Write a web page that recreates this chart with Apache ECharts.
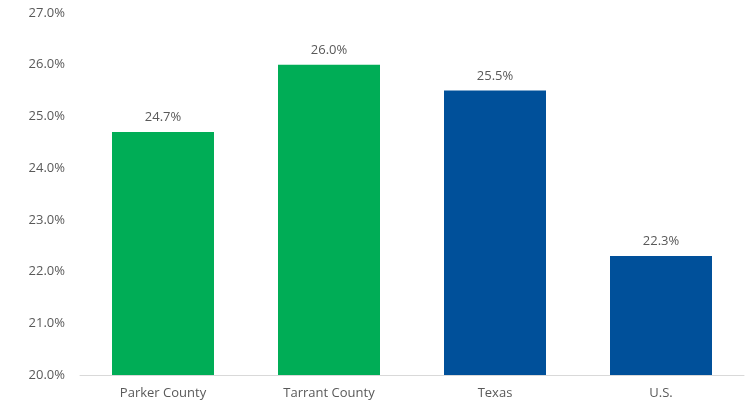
<!DOCTYPE html>
<html>
<head>
<meta charset="utf-8">
<script src="https://cdn.jsdelivr.net/npm/echarts@6/dist/echarts.min.js"></script>
<style>
  html, body { margin: 0; padding: 0; background: #fff; }
  #chart { width: 752px; height: 409px; }
</style>
</head>
<body>
<div id="chart"></div>
<script>
// Share of population by area (percent)
const categories = ['Parker County', 'Tarrant County', 'Texas', 'U.S.'];
const values = [24.7, 26.0, 25.5, 22.3];
const barColors = ['#00AD56', '#00AD56', '#00509A', '#00509A'];
const yTicks = { min: 20, max: 27, interval: 1 };

const chart = echarts.init(document.getElementById('chart'), null, { renderer: 'canvas' });
const textFont = "'Open Sans', 'Noto Sans', sans-serif";

chart.setOption({
  animation: false,
  grid: { left: 80, right: 8, top: 13, bottom: 34 },
  xAxis: {
    type: 'category',
    data: categories,
    axisLine: { lineStyle: { color: '#D9D9D9', width: 1 } },
    axisTick: { show: false },
    axisLabel: { color: '#595959', fontSize: 13, fontFamily: textFont, margin: 12 }
  },
  yAxis: {
    type: 'value',
    min: yTicks.min,
    max: yTicks.max,
    interval: yTicks.interval,
    axisLine: { show: false },
    axisTick: { show: false },
    splitLine: { show: false },
    axisLabel: {
      color: '#595959', fontSize: 13, fontFamily: textFont, margin: 15,
      formatter: v => v.toFixed(1) + '%'
    }
  },
  series: [{
    type: 'bar',
    barWidth: 102,
    data: values.map((v, i) => ({ value: v, itemStyle: { color: barColors[i] } })),
    label: {
      show: true,
      position: 'top',
      distance: 8,
      color: '#595959',
      fontSize: 13,
      fontFamily: textFont,
      formatter: p => p.value.toFixed(1) + '%'
    }
  }]
});
</script>
</body>
</html>
